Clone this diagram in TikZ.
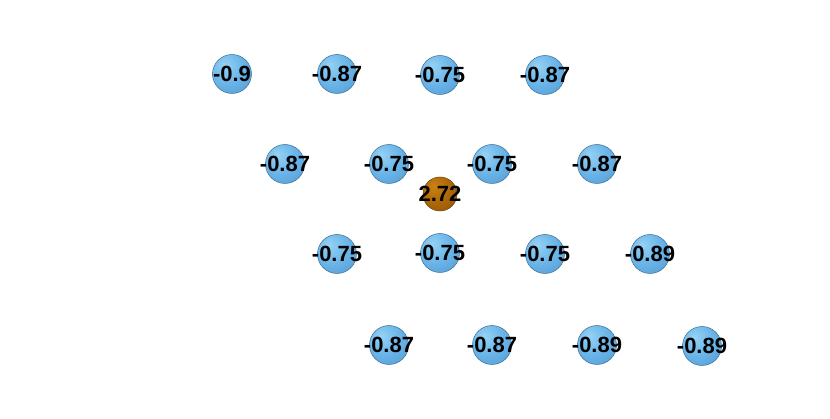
\documentclass[tikz,border=0pt]{standalone}
\usepackage{fontspec}
\setmainfont{Liberation Sans}
\definecolor{bluehi}{RGB}{150,210,245}
\definecolor{bluemid}{RGB}{105,180,232}
\definecolor{blueedge}{RGB}{80,150,205}
\definecolor{blueline}{RGB}{60,110,150}
\definecolor{orhi}{RGB}{200,130,20}
\definecolor{ormid}{RGB}{172,104,8}
\definecolor{oredge}{RGB}{140,82,5}
\definecolor{orline}{RGB}{110,65,5}
\pgfdeclareradialshading{bluesphere}{\pgfpoint{-10bp}{12bp}}{color(0bp)=(bluehi); color(22bp)=(bluemid); color(48bp)=(blueedge); color(62bp)=(blueline); color(100bp)=(blueline)}
\pgfdeclareradialshading{orsphere}{\pgfpoint{-10bp}{12bp}}{color(0bp)=(orhi); color(22bp)=(ormid); color(48bp)=(oredge); color(62bp)=(orline); color(100bp)=(orline)}
\tikzset{
  atom/.style={circle, minimum size=39pt, inner sep=0pt, shading=bluesphere, draw=blueline, line width=0.5pt},
  center atom/.style={atom, shading=orsphere, draw=orline},
  lbl/.style={font=\bfseries\fontsize{22}{22}\selectfont, text=black, inner sep=0pt}
}
\begin{document}
\begin{tikzpicture}[x=1pt,y=-1pt]
\useasboundingbox (0,0) rectangle (830,419);
\foreach \n/\x/\y/\t in {a1/232/74/-0.9, a2/337/74/-0.87, a3/440/75/-0.75, a4/545/75/-0.87,
  b1/285/164/-0.87, b2/389/164/-0.75, b3/492/164/-0.75, b4/597/164/-0.87,
  c1/337/254/-0.75, c2/440/253/-0.75, c3/545/254/-0.75, c4/650/254/-0.89,
  d1/389/345/-0.87, d2/492/345/-0.87, d3/597/345/-0.89, d4/702/346/-0.89} {
  \node[atom] (\n) at (\x,\y) {};
  \node[lbl] (\n t) at (\n) {\t};
}
\node[center atom, minimum size=34pt] (o) at (440,194) {};
\node[lbl] (ot) at (o) {2.72};
\end{tikzpicture}
\end{document}
